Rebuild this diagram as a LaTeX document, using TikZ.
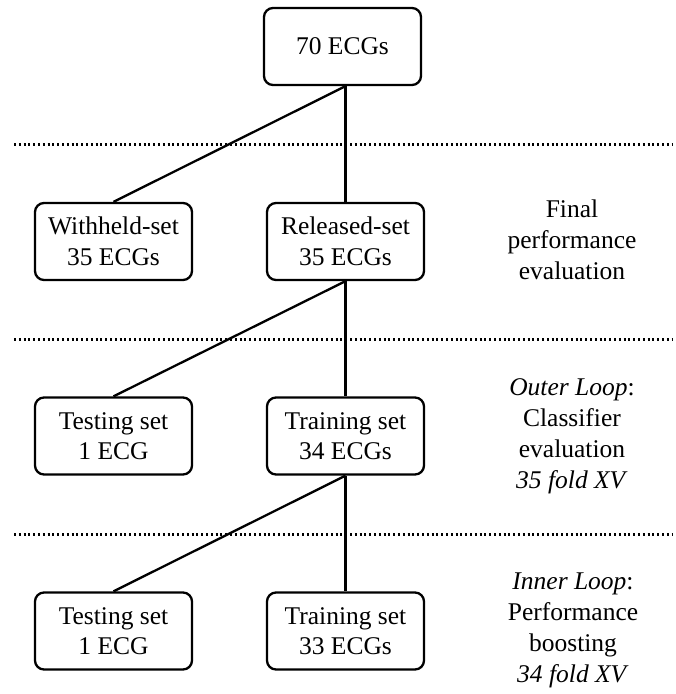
\documentclass[tikz,border=0pt]{standalone}
\usepackage{fontspec}
\setmainfont{Liberation Serif}
\begin{document}
\begin{tikzpicture}[x=1pt,y=-1pt,
  setbox/.style={draw,line width=2.3pt,rounded corners=9pt,
    minimum width=157pt,minimum height=77pt,inner sep=0pt,align=center,
    font=\fontsize{25.5}{30.5}\selectfont},
  note/.style={align=center,inner sep=0pt,font=\fontsize{25.5}{31}\selectfont},
  link/.style={line width=2.3pt},
  divider/.style={line width=2.2pt,dash pattern=on 2pt off 2.8pt}]
\useasboundingbox (0,0) rectangle (676,694);

% boxes
\node[setbox] (all) at (342.5,46.5) {70 ECGs};
\node[setbox] (withheld) at (113.5,241.5) {Withheld-set\\35 ECGs};
\node[setbox] (released) at (345.5,241.5) {Released-set\\35 ECGs};
\node[setbox] (test1) at (113.5,436) {Testing set\\1 ECG};
\node[setbox] (train1) at (345.5,436) {Training set\\34 ECGs};
\node[setbox] (test2) at (113.5,631) {Testing set\\1 ECG};
\node[setbox] (train2) at (345.5,631) {Training set\\33 ECGs};

% connectors
\coordinate (allfoot) at (all.south -| released.north);
\draw[link] (allfoot) -- (withheld.north);
\draw[link] (allfoot) -- (released.north);
\draw[link] (released.south) -- (test1.north);
\draw[link] (released.south) -- (train1.north);
\draw[link] (train1.south) -- (test2.north);
\draw[link] (train1.south) -- (train2.north);

% level separators
\coordinate (d1l) at (14,144.5); \coordinate (d1r) at (673,144.5);
\coordinate (d2l) at (14,339.5); \coordinate (d2r) at (673,339.5);
\coordinate (d3l) at (14,534.5); \coordinate (d3r) at (673,534.5);
\draw[divider] (d1l) -- (d1r);
\draw[divider] (d2l) -- (d2r);
\draw[divider] (d3l) -- (d3r);

% stage descriptions
\node[note] (final) at (572,240) {Final\\performance\\evaluation};
\node[note] (outer) at (572,436) {\textit{Outer Loop}:\\Classifier\\evaluation\\\textit{35 fold XV}};
\node[note] (inner) at (573,630) {\textit{Inner Loop}:\\Performance\\boosting\\\textit{34 fold XV}};
\end{tikzpicture}
\end{document}
